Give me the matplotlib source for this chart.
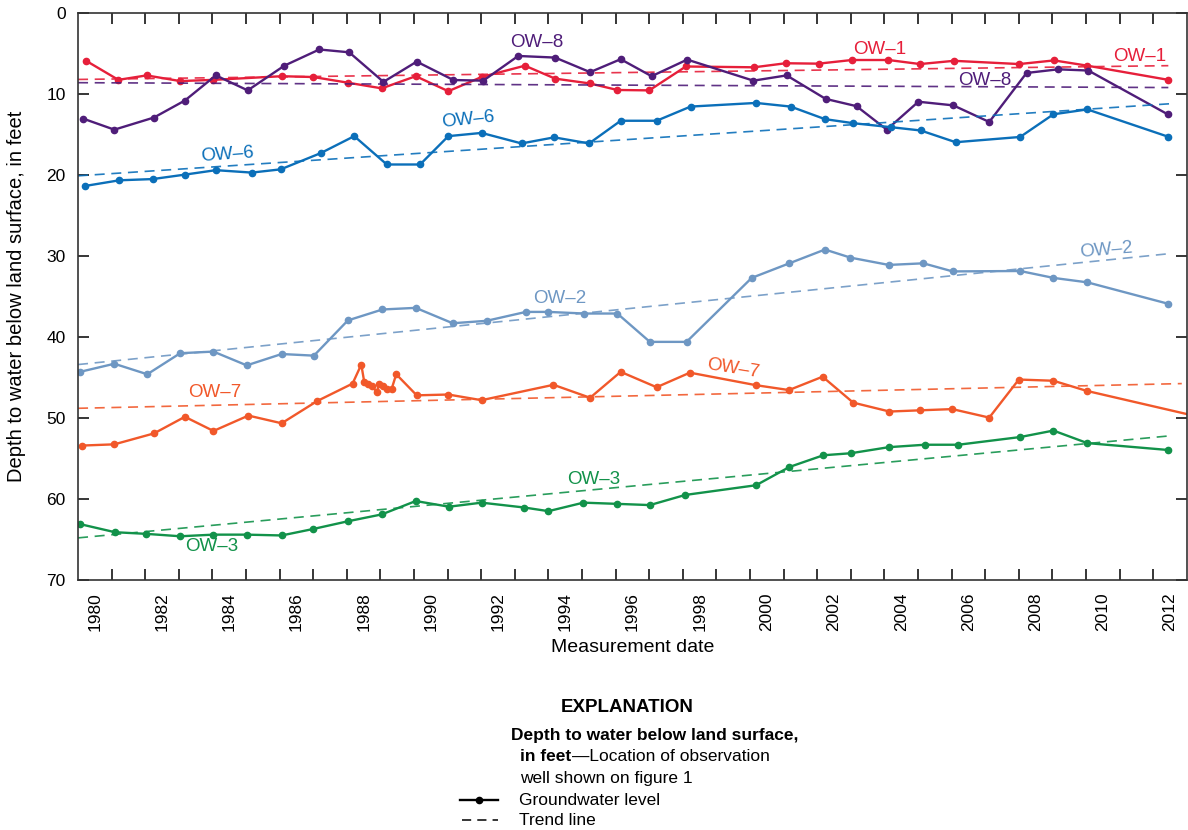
import numpy as np
import matplotlib
matplotlib.use('Agg')
import matplotlib.pyplot as plt
from matplotlib.lines import Line2D

plt.rcParams['font.family'] = ['Liberation Sans', 'DejaVu Sans']

# water levels, depth below land surface in feet
ow1_year = [1980.24, 1981.2, 1982.04, 1983.04, 1984.03, 1986.06, 1987.0, 1988.03, 1989.04, 1990.05,
            1991.02, 1992.01, 1993.3, 1994.2, 1995.24, 1996.05, 1997.0, 1998.09, 2000.12, 2001.06,
            2002.04, 2003.03, 2004.12, 2005.06, 2006.07, 2008.01, 2009.05, 2010.04, 2012.45]
ow1_depth = [5.9, 8.25, 7.7, 8.4, 8.25, 7.8, 7.9, 8.6, 9.3, 7.8,
             9.65, 7.9, 6.5, 8.1, 8.7, 9.5, 9.55, 6.6, 6.7, 6.2,
             6.25, 5.8, 5.8, 6.3, 5.9, 6.3, 5.85, 6.5, 8.25]

ow8_year = [1980.16, 1981.08, 1982.26, 1983.18, 1984.1, 1985.05, 1986.14, 1987.18, 1988.07, 1989.09,
            1990.08, 1991.17, 1992.06, 1993.1, 1994.2, 1995.24, 1996.15, 1997.07, 1998.13, 2000.1,
            2001.09, 2002.25, 2003.17, 2004.07, 2005.01, 2006.05, 2007.12, 2008.23, 2009.17, 2010.07,
            2012.43]
ow8_depth = [13.05, 14.4, 12.9, 10.8, 7.7, 9.55, 6.5, 4.5, 4.85, 8.5,
             6.0, 8.27, 8.35, 5.3, 5.5, 7.3, 5.7, 7.8, 5.75, 8.35,
             7.7, 10.6, 11.5, 14.4, 10.95, 11.4, 13.45, 7.4, 6.95, 7.1,
             12.5]

ow6_year = [1980.21, 1981.23, 1982.22, 1983.18, 1984.1, 1985.17, 1986.03, 1987.22, 1988.22, 1989.19,
            1990.18, 1991.02, 1992.01, 1993.2, 1994.17, 1995.21, 1996.15, 1997.22, 1998.23, 2000.18,
            2001.21, 2002.23, 2003.07, 2004.21, 2005.08, 2006.12, 2008.04, 2009.03, 2010.04, 2012.43]
ow6_depth = [21.35, 20.65, 20.5, 19.95, 19.4, 19.7, 19.3, 17.3, 15.2, 18.7,
             18.7, 15.2, 14.8, 16.1, 15.35, 16.1, 13.3, 13.3, 11.55, 11.1,
             11.55, 13.1, 13.6, 14.1, 14.5, 15.95, 15.3, 12.5, 11.9, 15.25]

ow2_year = [1980.06, 1981.08, 1982.06, 1983.04, 1984.03, 1985.02, 1986.06, 1987.02, 1988.03, 1989.06,
            1990.05, 1991.15, 1992.16, 1993.33, 1994.0, 1995.07, 1996.05, 1997.02, 1998.11, 2000.05,
            2001.17, 2002.23, 2002.99, 2004.13, 2005.16, 2006.03, 2008.04, 2009.03, 2010.04, 2012.45]
ow2_depth = [44.3, 43.3, 44.6, 42.0, 41.8, 43.5, 42.1, 42.3, 37.95, 36.6,
             36.4, 38.3, 38.0, 36.9, 36.9, 37.1, 37.1, 40.6, 40.6, 32.7,
             30.9, 29.2, 30.2, 31.1, 30.9, 31.9, 31.85, 32.7, 33.25, 35.9]

ow7_year = [1980.13, 1981.08, 1982.26, 1983.18, 1984.03, 1985.07, 1986.06, 1987.12, 1988.17, 1988.43,
            1988.52, 1988.64, 1988.74, 1988.89, 1988.96, 1989.09, 1989.21, 1989.33, 1989.47, 1990.08,
            1991.02, 1992.01, 1994.15, 1995.24, 1996.15, 1997.22, 1998.21, 2000.18, 2001.16, 2002.16,
            2003.07, 2004.15, 2005.06, 2006.02, 2007.12, 2008.0, 2009.03, 2010.02, 2013.3]
ow7_depth = [53.4, 53.25, 51.9, 49.85, 51.6, 49.7, 50.65, 47.9, 45.75, 43.4,
             45.6, 45.85, 46.0, 46.8, 45.8, 46.1, 46.45, 46.45, 44.6, 47.2,
             47.1, 47.8, 45.9, 47.5, 44.3, 46.2, 44.4, 45.95, 46.55, 44.9,
             48.1, 49.2, 49.05, 48.9, 49.95, 45.25, 45.4, 46.65, 49.8]

ow3_year = [1980.06, 1981.1, 1982.02, 1983.04, 1984.03, 1985.02, 1986.06, 1987.0, 1988.03, 1989.04,
            1990.05, 1991.04, 1992.01, 1993.28, 1994.0, 1995.04, 1996.05, 1997.02, 1998.07, 2000.18,
            2001.17, 2002.18, 2003.0, 2004.13, 2005.2, 2006.2, 2008.04, 2009.03, 2010.04, 2012.45]
ow3_depth = [63.1, 64.1, 64.3, 64.6, 64.4, 64.4, 64.5, 63.7, 62.75, 61.9,
             60.25, 60.95, 60.45, 61.05, 61.5, 60.45, 60.6, 60.75, 59.5, 58.3,
             56.05, 54.6, 54.35, 53.6, 53.3, 53.3, 52.35, 51.55, 53.1, 53.95]

# trend lines (start, end)
ow1_trend_year, ow1_trend_depth = [1980.0, 2012.45], [8.2, 6.5]
ow8_trend_year, ow8_trend_depth = [1980.0, 2012.45], [8.6, 9.2]
ow6_trend_year, ow6_trend_depth = [1980.0, 2012.5], [20.1, 11.2]
ow2_trend_year, ow2_trend_depth = [1980.0, 2012.5], [43.4, 29.7]
ow7_trend_year, ow7_trend_depth = [1980.0, 2012.85], [48.8, 45.75]
ow3_trend_year, ow3_trend_depth = [1980.0, 2012.5], [64.8, 52.2]

year_labels = ['1980', '1982', '1984', '1986', '1988', '1990', '1992', '1994', '1996',
               '1998', '2000', '2002', '2004', '2006', '2008', '2010', '2012']
depth_ticks = [0, 10, 20, 30, 40, 50, 60, 70]

wells = [
    ('OW\u20131', ow1_year, ow1_depth, ow1_trend_year, ow1_trend_depth, '#e61f3a'),
    ('OW\u20138', ow8_year, ow8_depth, ow8_trend_year, ow8_trend_depth, '#4f1d79'),
    ('OW\u20136', ow6_year, ow6_depth, ow6_trend_year, ow6_trend_depth, '#0b6fb9'),
    ('OW\u20132', ow2_year, ow2_depth, ow2_trend_year, ow2_trend_depth, '#6e97c3'),
    ('OW\u20137', ow7_year, ow7_depth, ow7_trend_year, ow7_trend_depth, '#f1582a'),
    ('OW\u20133', ow3_year, ow3_depth, ow3_trend_year, ow3_trend_depth, '#12924a'),
]

# label placement: (well name, year, depth, rotation)
well_labels = [
    ('OW\u20131', 2003.87, 4.5, 0), ('OW\u20131', 2011.6, 5.4, 0),
    ('OW\u20138', 1993.66, 3.7, 0), ('OW\u20138', 2006.99, 8.3, 0),
    ('OW\u20136', 1984.45, 17.5, 4), ('OW\u20136', 1991.62, 13.2, 6),
    ('OW\u20132', 1994.35, 35.2, 0), ('OW\u20132', 2010.61, 29.3, 5),
    ('OW\u20137', 1984.08, 46.9, 0), ('OW\u20137', 1999.5, 43.9, -9),
    ('OW\u20133', 1983.98, 65.9, 0), ('OW\u20133', 1995.34, 57.6, 0),
]

fig = plt.figure(figsize=(11.88, 8.30), dpi=100)
ax = fig.add_axes([0.0657, 0.3012, 0.9333, 0.6831])

colors = {}
for name, yr, dep, tyr, tdep, col in wells:
    colors[name] = col
    ax.plot(tyr, tdep, color=col, lw=1.2, dashes=(6, 4), alpha=0.9)
    ax.plot(yr, dep, color=col, lw=1.7, marker='o', ms=4.5)

for name, yr, dep, rot in well_labels:
    ax.text(yr, dep, name, color=colors[name], fontsize=13.5, ha='center', va='center',
            rotation=rot, rotation_mode='anchor')

ax.set_xlim(1980, 2013)
ax.set_ylim(70, 0)

ax.set_xticks(np.arange(1981, 2013))
ax.tick_params(axis='x', which='major', direction='in', top=True, bottom=True,
               length=8, width=1.1, labelbottom=False)
ax.set_xticks([int(s) + 0.5 for s in year_labels], year_labels, minor=True)
ax.tick_params(axis='x', which='minor', length=0, pad=9, labelsize=12.5, labelrotation=90)

ax.set_yticks(depth_ticks)
ax.tick_params(axis='y', direction='in', left=True, right=True, length=8, width=1.1,
               pad=9, labelsize=12.5)

for s in ax.spines.values():
    s.set_linewidth(1.2)
    s.set_color('#333333')

ax.set_ylabel('Depth to water below land surface, in feet', fontsize=14.5)
ax.yaxis.set_label_coords(-0.047, 0.5)
ax.set_xlabel('Measurement date', fontsize=14)
ax.xaxis.set_label_coords(0.5, -0.104)

# explanation block
fig.text(0.528, 0.147, 'EXPLANATION', fontsize=13.5, fontweight='bold', ha='center', va='center')
fig.text(0.430, 0.1135, 'Depth to water below land surface,', fontsize=12.5, fontweight='bold',
         ha='left', va='center')
t = fig.text(0.438, 0.088, 'in feet', fontsize=12.5, fontweight='bold', ha='left', va='center')
ax.annotate('\u2014Location of observation', xy=(1, 0.5), xycoords=t, fontsize=12.5,
            ha='left', va='center', annotation_clip=False)
fig.text(0.438, 0.0615, 'well shown on figure 1', fontsize=12.5, ha='left', va='center')

fig.add_artist(Line2D([0.387, 0.4035, 0.419], [0.036, 0.036, 0.036], transform=fig.transFigure,
                      color='black', lw=1.7, marker='o', markevery=[1], ms=4.5))
fig.add_artist(Line2D([0.389, 0.419], [0.012, 0.012], transform=fig.transFigure,
                      color='black', lw=1.1, dashes=(6, 4)))
fig.text(0.437, 0.036, 'Groundwater level', fontsize=12.5, ha='left', va='center')
fig.text(0.437, 0.012, 'Trend line', fontsize=12.5, ha='left', va='center')

fig.savefig('out.png', dpi=100)
